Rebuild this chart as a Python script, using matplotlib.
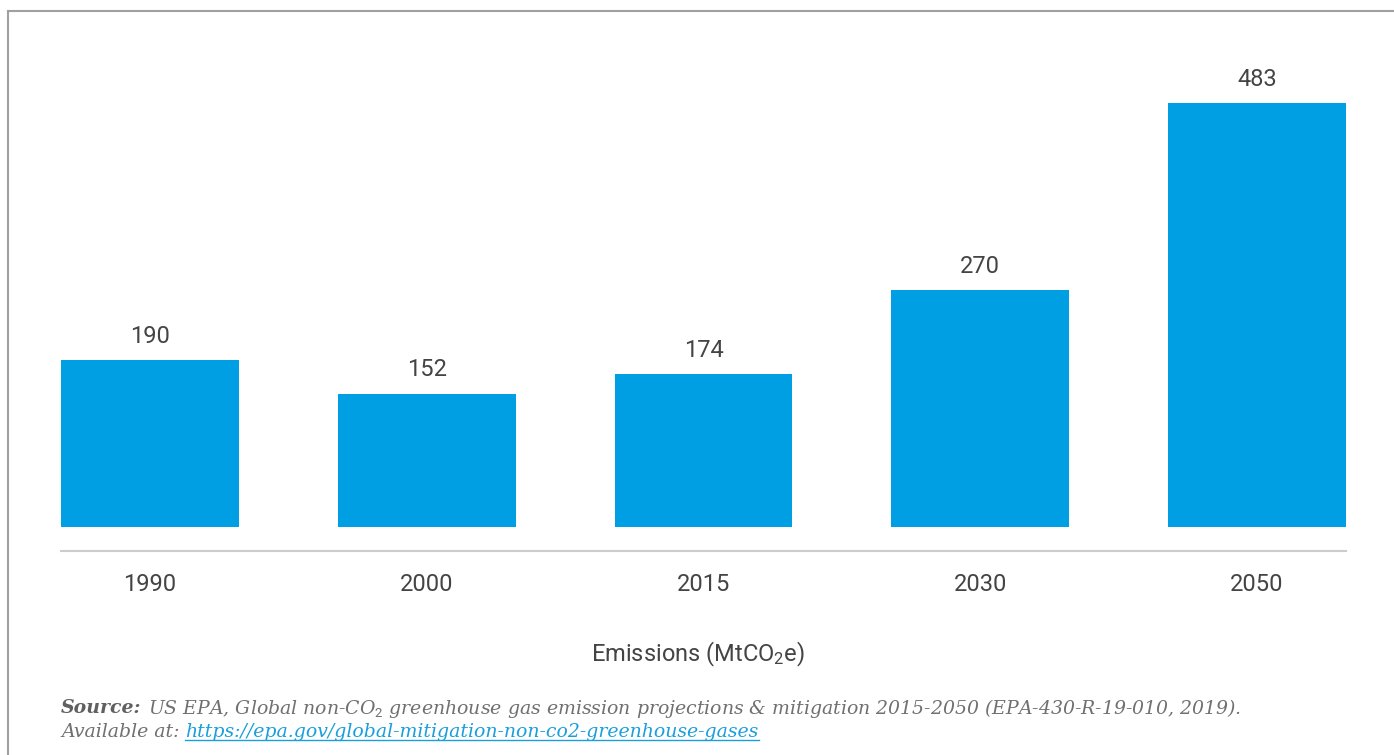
import matplotlib.pyplot as plt
from matplotlib.lines import Line2D

years = ['1990', '2000', '2015', '2030', '2050']
emissions = [190, 152, 174, 270, 483]

bar_color = '#009fe3'
text_color = '#444444'

plt.rcParams['font.family'] = ['Roboto', 'DejaVu Sans']
plt.rcParams['mathtext.fontset'] = 'custom'
plt.rcParams['mathtext.rm'] = 'Roboto'
plt.rcParams['mathtext.it'] = 'DejaVu Serif:italic'

W, H = 1394, 755
fig = plt.figure(figsize=(W / 100, H / 100), dpi=100)

# axes placed in pixel terms: x 61..1346, y 60..551
ax = fig.add_axes([61 / W, 1 - 551 / H, (1346 - 61) / W, (551 - 60) / H])
x = list(range(len(years)))
bars = ax.bar(x, emissions, width=0.643, color=bar_color)
ax.bar_label(bars, labels=[str(v) for v in emissions], padding=9,
             fontsize=17, color=text_color)

ax.set_xlim(-0.3216, 4.3216)
ax.set_ylim(-27.3, 532)
ax.set_xticks(x)
ax.set_xticklabels(years, fontsize=17, color=text_color)
ax.tick_params(axis='x', length=0, pad=16)
ax.set_yticks([])
for s in ['top', 'right', 'left']:
    ax.spines[s].set_visible(False)
ax.spines['bottom'].set_color('#cccccc')
ax.spines['bottom'].set_linewidth(1.5)

fig.text(698 / W, 1 - 654 / H, 'Emissions (MtCO$_2$e)', ha='center', va='center',
         fontsize=17, color=text_color)

# frame lines (top and left)
fig.add_artist(Line2D([8 / W, 1], [1 - 11 / H, 1 - 11 / H], color='#a0a0a0', lw=1.5))
fig.add_artist(Line2D([8 / W, 8 / W], [0, 1 - 11 / H], color='#a0a0a0', lw=1.5))

# source note
src_color = '#707070'
src_font = dict(fontsize=13.6, style='italic', family='DejaVu Serif', ha='left', va='center')
fig.canvas.draw()
r = fig.canvas.get_renderer()
t1 = fig.text(61 / W, 1 - 708 / H, 'Source:', fontweight='bold', color='#606060', **src_font)
bb = t1.get_window_extent(r)
fig.text((bb.x1 + 6) / W, 1 - 708 / H,
         'US EPA, Global non-CO$_\\mathit{2}$ greenhouse gas emission projections & mitigation '
         '2015-2050 (EPA-430-R-19-010, 2019).', color=src_color, **src_font)
t3 = fig.text(61 / W, 1 - 732 / H, 'Available at:', color=src_color, **src_font)
bb3 = t3.get_window_extent(r)
t4 = fig.text((bb3.x1 + 6) / W, 1 - 732 / H,
              'https://epa.gov/global-mitigation-non-co2-greenhouse-gases',
              color='#1a9fdc', **src_font)
bb4 = t4.get_window_extent(r)
fig.add_artist(Line2D([bb4.x0 / W, bb4.x1 / W], [(bb4.y0 + 1) / H, (bb4.y0 + 1) / H],
                      color='#1a9fdc', lw=1))

fig.savefig('out.png', dpi=100)
